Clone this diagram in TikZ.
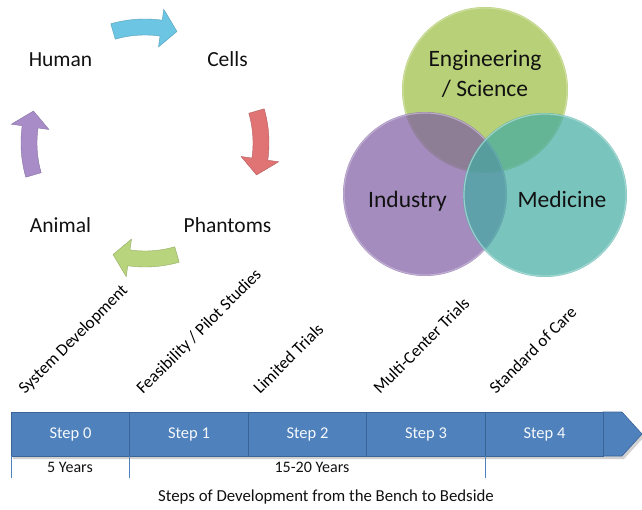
\documentclass[tikz,border=0pt]{standalone}
\usepackage{fontspec}
\setmainfont{Carlito}
\usetikzlibrary{shadows}
\definecolor{barblue}{HTML}{4F81BD}
\definecolor{barline}{HTML}{3A6496}
\definecolor{arBlue}{HTML}{6CC6E3}
\definecolor{arRed}{HTML}{E07474}
\definecolor{arGreen}{HTML}{B8D47C}
\definecolor{arPurple}{HTML}{A88CC8}
\definecolor{vGreen}{RGB}{154,188,62}
\definecolor{vPurple}{RGB}{125,91,162}
\definecolor{vTeal}{RGB}{65,171,162}
\definecolor{txt}{HTML}{111111}
\newcommand\cyclearrow[4]{%
 \fill[#1, draw=#1!80!black, line width=0.4pt]
  plot[domain=0:1, samples=20] ({145+124*cos(#2+(#3-#2)*\x)},{143+124*sin(#2+(#3-#2)*\x)})
  -- ({145+135*cos(#3)},{143+135*sin(#3)})
  -- ({145+116*cos(#4)},{143+116*sin(#4)})
  -- ({145+97*cos(#3)},{143+97*sin(#3)})
  -- plot[domain=0:1, samples=20] ({145+108*cos(#3+(#2-#3)*\x)},{143+108*sin(#3+(#2-#3)*\x)})
  -- cycle;}
\tikzset{
  cyclelabel/.style={anchor=base, inner sep=0pt, text=txt, font=\fontsize{21.5}{24}\selectfont},
  venntext/.style={anchor=base, inner sep=0pt, text=txt, font=\fontsize{23.5}{26}\selectfont},
  phase/.style={anchor=base west, inner sep=0pt, rotate=45, text=black, font=\fontsize{17}{20}\selectfont},
  stepbox/.style={rectangle, fill=barblue, draw=barline, line width=0.6pt, minimum width=118.5pt, minimum height=44pt, inner sep=0pt, text=white!95!barblue, font=\fontsize{16.5}{18}\selectfont},
  years/.style={inner sep=0pt, text=txt, font=\fontsize{16}{18}\selectfont},
  tick/.style={draw=barblue, line width=0.6pt}
}
\begin{document}
\begin{tikzpicture}[x=1pt, y=-1pt]
\useasboundingbox (0,0) rectangle (642,510);
% cycle
\cyclearrow{arBlue}{254}{278}{286}
\cyclearrow{arRed}{344}{368}{376}
\cyclearrow{arGreen}{74}{98}{106}
\cyclearrow{arPurple}{164}{188}{196}
\node[cyclelabel] (human) at (60.5,67) {Human};
\node[cyclelabel] (cells) at (227.5,67) {Cells};
\node[cyclelabel] (animal) at (60.5,233) {Animal};
\node[cyclelabel] (phantoms) at (227.5,233) {Phantoms};
% venn
\fill[vGreen, fill opacity=0.7] (485,90) circle[radius=83];
\draw[white!55!vGreen, line width=1.2pt, opacity=0.8] (485,90) circle[radius=82];
\fill[vPurple, fill opacity=0.7] (425,194) circle[radius=82];
\draw[white!55!vPurple, line width=1.2pt, opacity=0.8] (425,194) circle[radius=81];
\fill[vTeal, fill opacity=0.7] (545,195) circle[radius=82];
\draw[white!55!vTeal, line width=1.2pt, opacity=0.8] (545,195) circle[radius=81];
\node[venntext] (eng) at (485,67) {Engineering};
\node[venntext] (sci) at (485,97) {/ Science};
\node[venntext] (ind) at (407.5,208) {Industry};
\node[venntext] (med) at (562,208) {Medicine};
% rotated phase labels
\node[phase] (p0) at (25,395) {System Development};
\node[phase] (p1) at (143,395) {Feasibility / Pilot Studies};
\node[phase] (p2) at (260,395) {Limited Trials};
\node[phase] (p3) at (380,395) {Multi-Center Trials};
\node[phase] (p4) at (496,395) {Standard of Care};
% bar
\fill[black, opacity=0.18] (13,415) -- (624,415) -- (644,437) -- (624,459) -- (13,459) -- cycle;
\fill[barblue, draw=barline, line width=0.6pt] (603,412) -- (622,412) -- (642,434) -- (622,456) -- (603,456) -- cycle;
\node[stepbox] (s0) at (70.5,434) {Step 0};
\node[stepbox] (s1) at (189,434) {Step 1};
\node[stepbox] (s2) at (307.5,434) {Step 2};
\node[stepbox] (s3) at (426,434) {Step 3};
\node[stepbox] (s4) at (544.5,434) {Step 4};
\draw[tick] (s0.south west) -- ++(0,22);
\draw[tick] (s1.south west) -- ++(0,22);
\draw[tick] (s4.south west) -- ++(0,22);
\node[years] (y5) at (70,467) {5 Years};
\node[years] (y15) at (312,467) {15-20 Years};
\node[years, font=\fontsize{16.8}{19}\selectfont] (cap) at (326,497) {Steps of Development from the Bench to Bedside};
\end{tikzpicture}
\end{document}
